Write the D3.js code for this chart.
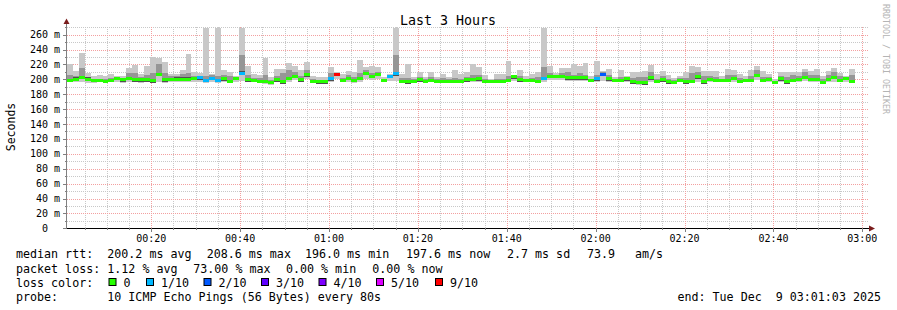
<!DOCTYPE html>
<html>
<head>
<meta charset="utf-8">
<script src="https://cdn.jsdelivr.net/npm/d3@7"></script>
<style>
  html, body { margin: 0; padding: 0; background: #fff; }
  svg { display: block; }
  text { font-family: "DejaVu Sans Mono", monospace; fill: #000; white-space: pre; }
</style>
</head>
<body>
<div id="chart"></div>
<script>
// step start time and step length (smokeping 80s steps)
const startTime = Date.UTC(2025, 11, 9, 0, 1, 3)
const endTime = Date.UTC(2025, 11, 9, 3, 1, 3)
const stepSec = 80

// median rtt per step (ms)
const median = [
  199, 201, 203.5, 201, 199, 199, 198.2, 199.5, 202, 200,
  202, 200, 200, 200, 198.6, 207, 200, 200.5, 201, 201,
  201, 202, 202.7, 199, 202, 199, 201.3, 198.2, 201.8, 209,
  200, 199.1, 198.2, 198.2, 196.4, 200, 197.3, 202, 204.5, 200,
  206.7, 198.2, 197.3, 197.3, 201.3, 207, 199.1, 202.2, 199.1, 202.2,
  208.5, 204.9, 207, 199.1, 204.9, 208, 198.2, 197.3, 198.2, 200,
  198.2, 199.1, 198.2, 198.2, 198.2, 198.2, 198.2, 200, 200.9, 201.3,
  198.2, 198.2, 198.2, 198.2, 199.1, 204, 200, 199.1, 199.1, 198.2,
  202.2, 204.5, 204.5, 204.5, 202.7, 202.7, 202.7, 202.7, 199.1, 201.3,
  207, 201.3, 199.1, 199.1, 201.3, 197.3, 196.4, 196, 202.7, 198.2,
  200, 197.3, 196.9, 199.1, 197.3, 198.2, 204, 197.3, 200.4, 199.1,
  199.1, 199.1, 202.2, 198.2, 199.1, 199.1, 205.8, 199.1, 200.4, 196.4,
  201.3, 197.3, 199.1, 200.9, 203.6, 200.4, 200.4, 196.4, 200.9, 203.6,
  198.7, 201.8, 198.2
]

// slowest ping per step (ms)
const maxPing = [
  220.6, 211.6, 235.3, 208.5, 204.9, 206.3, 204, 207.2, 204.5, 204,
  215.2, 219.2, 207.2, 218.3, 230.4, 229, 222.8, 207.2, 207.2, 212.5,
  234, 209.4, 208.5, 269, 207, 269, 212.5, 210.3, 204.9, 269,
  218, 207.2, 206.3, 229, 203.6, 213.9, 213.9, 221.5, 218.3, 212.5,
  223.3, 204.9, 203.6, 203.6, 216.1, 209.4, 207.2, 211.6, 209.4, 226.4,
  216.1, 218.3, 217, 202.7, 207.2, 269, 207.2, 220, 203.6, 209.4,
  203.6, 209.4, 202.7, 207.2, 202.7, 212.5, 207.2, 209.4, 220.6, 217,
  206.3, 200.4, 207.2, 207.2, 225, 206.3, 212.5, 204.9, 207.2, 209.4,
  269, 218.3, 208.1, 214.8, 215.2, 220.6, 218.3, 221.5, 204.9, 224.2,
  211, 213.9, 202.7, 212.5, 204.9, 210.3, 210.3, 211.6, 219.7, 207.2,
  210.7, 206.3, 201.8, 204.9, 210.3, 217.9, 217, 210.7, 210.7, 210.7,
  204.9, 213.9, 212.5, 207.2, 204.9, 212.5, 217.9, 211.6, 207.2, 200.4,
  209.4, 209.4, 210.3, 210.3, 213.9, 211.6, 213.9, 204.9, 211.6, 215.7,
  208.5, 204.9, 213.9
]

// upper edge of the dense part of the smoke (ms)
const innerHigh = [
  206, 204, 215, 203, 201, 201, 200, 202, 203.5, 202,
  208, 208, 203, 206, 208, 221, 208, 204, 204, 207,
  208, 205, 205, 205, 206, 204, 206, 204, 203, 232,
  206, 202, 202, 206, 199, 205, 208, 212, 210, 204,
  213, 200, 199, 199, 208, 208, 202, 206, 203, 208,
  212, 209, 210, 200, 206, 232, 202, 202, 200, 203,
  200, 203, 200, 202, 200, 202, 201, 203, 206, 206,
  201, 199, 201, 201, 204, 206, 204, 201, 202, 203,
  216, 209, 206, 208, 210, 206, 209, 206, 201, 206,
  210, 206, 200, 203, 203, 202, 203, 203, 210, 201,
  204, 201, 199, 202, 202, 209, 210, 204, 204, 203,
  201, 206, 206, 202, 201, 205, 212, 203, 203, 198,
  205, 203, 206, 205, 210, 206, 206, 200, 206, 210,
  204, 203, 206
]

// fastest ping per step (ms)
const minPing = [
  196, 197, 196, 195, 195, 196, 195, 196, 196, 195,
  196, 196, 195, 196, 195, 196, 195, 196, 196, 196,
  196, 197, 196, 195, 196, 195, 196, 195, 197, 198,
  196, 196, 195, 194, 193, 196, 194, 197, 199, 196,
  200, 195, 194, 194, 196, 200, 196, 197, 195, 197,
  200, 199, 200, 196, 198, 198, 195, 194, 195, 196,
  195, 196, 195, 195, 195, 195, 195, 196, 197, 197,
  195, 195, 195, 195, 196, 198, 196, 196, 196, 195,
  197, 199, 199, 199, 198, 198, 198, 198, 196, 197,
  198, 197, 196, 196, 197, 194, 193, 193, 196, 195,
  196, 194, 194, 196, 194, 195, 197, 194, 196, 196,
  196, 196, 197, 195, 196, 196, 199, 196, 197, 194,
  197, 194, 196, 197, 198, 196, 196, 194, 197, 197,
  196, 197, 195
]

// lost pings out of 10 per step
const loss = [
  0, 0, 0, 0, 0, 0, 0, 0, 0, 0,
  0, 0, 0, 0, 0, 0, 0, 0, 0, 0,
  0, 0, 1, 1, 1, 1, 0, 0, 0, 1,
  0, 0, 0, 0, 0, 0, 0, 0, 0, 0,
  0, 0, 0, 0, 1, 9, 0, 0, 0, 0,
  0, 0, 0, 0, 1, 1, 0, 0, 0, 0,
  0, 0, 0, 0, 0, 0, 0, 0, 0, 0,
  0, 0, 0, 0, 0, 0, 0, 0, 0, 0,
  1, 0, 0, 0, 0, 0, 0, 0, 0, 1,
  2, 0, 0, 0, 0, 0, 0, 0, 0, 0,
  0, 0, 0, 0, 0, 0, 0, 0, 0, 0,
  0, 0, 0, 0, 0, 0, 0, 0, 0, 0,
  0, 0, 0, 0, 0, 0, 0, 0, 0, 0,
  0, 0, 0
]

const lossLabels = ["0", "1/10", "2/10", "3/10", "4/10", "5/10", "9/10"]
const lossColors = ["#26ff00", "#00b8ff", "#0059ff", "#5e00ff", "#7e00ff", "#dd00ff", "#ff0000"]
const lossSteps = [0, 1, 2, 3, 4, 5, 9]

const statsRtt = ["200.2 ms avg", "208.6 ms max", "196.0 ms min", "197.6 ms now", "2.7 ms sd", "73.9", "am/s"]
const statsLoss = ["1.12 % avg", "73.00 % max", "0.00 % min", "0.00 % now"]
const probeText = "10 ICMP Echo Pings (56 Bytes) every 80s"
const endText = "end: Tue Dec  9 03:01:03 2025"

const width = 897, height = 310
const plot = { left: 67, right: 867, top: 26.8, bottom: 228.3 }

const svg = d3.select("#chart").append("svg")
  .attr("width", width)
  .attr("height", height)

svg.append("rect").attr("width", width).attr("height", height).attr("fill", "#fff")

const x = d3.scaleUtc()
  .domain([new Date(startTime), new Date(endTime)])
  .range([plot.left, plot.right])

const y = d3.scaleLinear()
  .domain([0, 270.5])
  .range([plot.bottom, plot.top])

const colorFor = n => {
  let c = lossColors[0]
  lossSteps.forEach((s, i) => { if (n >= s) c = lossColors[i] })
  return c
}

const steps = median.map((m, i) => ({
  t0: new Date(startTime + i * stepSec * 1000),
  t1: new Date(startTime + (i + 1) * stepSec * 1000),
  med: m, hi: maxPing[i], inner: innerHigh[i], lo: minPing[i], loss: loss[i]
}))

const px = v => Math.round(v)

// grid: 5 min / 10 ms minor, 20 min / 20 ms major
const minorX = d3.utcMinute.every(5).range(x.domain()[0], x.domain()[1])
const majorX = d3.utcMinute.every(20).range(x.domain()[0], x.domain()[1])
const minorY = d3.range(10, 271, 10)
const majorY = d3.range(20, 261, 20)

const grid = svg.append("g").attr("shape-rendering", "crispEdges")
grid.selectAll(".vminor").data(minorX).join("line")
  .attr("x1", d => px(x(d)) + 0.5).attr("x2", d => px(x(d)) + 0.5)
  .attr("y1", plot.top).attr("y2", plot.bottom)
  .attr("stroke", "#c8c8c8").attr("stroke-dasharray", "1,1")
grid.selectAll(".hminor").data(minorY).join("line")
  .attr("x1", plot.left).attr("x2", plot.right + 2)
  .attr("y1", d => px(y(d)) + 0.5).attr("y2", d => px(y(d)) + 0.5)
  .attr("stroke", "#c8c8c8").attr("stroke-dasharray", "1,1")
grid.selectAll(".vmajor").data(majorX).join("line")
  .attr("x1", d => px(x(d)) + 0.5).attr("x2", d => px(x(d)) + 0.5)
  .attr("y1", plot.top).attr("y2", plot.bottom)
  .attr("stroke", "#f3a0a0").attr("stroke-dasharray", "1,1")
grid.selectAll(".hmajor").data(majorY).join("line")
  .attr("x1", plot.left).attr("x2", plot.right + 2)
  .attr("y1", d => px(y(d)) + 0.5).attr("y2", d => px(y(d)) + 0.5)
  .attr("stroke", "#f3a0a0").attr("stroke-dasharray", "1,1")

// smoke
const smoke = svg.append("g").attr("shape-rendering", "crispEdges")
const colX = d => px(x(d.t0))
const colW = d => px(x(d.t1)) - px(x(d.t0))

smoke.selectAll(".light").data(steps).join("rect")
  .attr("x", colX).attr("width", colW)
  .attr("y", d => px(y(d.hi))).attr("height", d => px(y(d.lo)) - px(y(d.hi)))
  .attr("fill", "#c8c8c8")

smoke.selectAll(".mid").data(steps).join("rect")
  .attr("x", colX).attr("width", colW)
  .attr("y", d => px(y(d.inner)))
  .attr("height", d => Math.max(0, px(y(Math.max(d.lo, d.med - 3))) - px(y(d.inner))))
  .attr("fill", "#969696")

smoke.selectAll(".dark").data(steps).join("rect")
  .attr("x", colX).attr("width", colW)
  .attr("y", d => px(y(Math.min(d.inner, d.med + 1.5))))
  .attr("height", d => Math.max(0, px(y(Math.max(d.lo, d.med - 3))) - px(y(Math.min(d.inner, d.med + 1.5)))))
  .attr("fill", "#505050")

// median coloured by loss
smoke.selectAll(".med").data(steps).join("rect")
  .attr("x", colX).attr("width", colW)
  .attr("y", d => px(y(d.med)) - 1).attr("height", 3)
  .attr("fill", d => colorFor(d.loss))

// axes
const axes = svg.append("g").attr("shape-rendering", "crispEdges")
axes.append("line")
  .attr("x1", plot.left - 0.5).attr("x2", plot.left - 0.5)
  .attr("y1", plot.bottom).attr("y2", 20)
  .attr("stroke", "#808080")
axes.append("line")
  .attr("x1", plot.left - 4).attr("x2", plot.right + 3)
  .attr("y1", px(plot.bottom) + 0.5).attr("y2", px(plot.bottom) + 0.5)
  .attr("stroke", "#000")
svg.append("path")
  .attr("d", `M${plot.left - 3.5},24 L${plot.left - 0.5},18.5 L${plot.left + 2.5},24 Z`)
  .attr("fill", "#7a1c1c")
svg.append("path")
  .attr("d", `M${plot.right + 2},${px(plot.bottom) - 2.5} L${plot.right + 8},${px(plot.bottom) + 0.5} L${plot.right + 2},${px(plot.bottom) + 3.5} Z`)
  .attr("fill", "#7a1c1c")

axes.selectAll(".ytick").data(majorY.concat([0])).join("line")
  .attr("x1", plot.left - 4).attr("x2", plot.left)
  .attr("y1", d => px(y(d)) + 0.5).attr("y2", d => px(y(d)) + 0.5)
  .attr("stroke", "#808080")
axes.selectAll(".ytickm").data(minorY.filter(v => v % 20)).join("line")
  .attr("x1", plot.left - 2).attr("x2", plot.left)
  .attr("y1", d => px(y(d)) + 0.5).attr("y2", d => px(y(d)) + 0.5)
  .attr("stroke", "#808080")
axes.selectAll(".xtick").data(majorX).join("line")
  .attr("x1", d => px(x(d)) + 0.5).attr("x2", d => px(x(d)) + 0.5)
  .attr("y1", px(plot.bottom)).attr("y2", px(plot.bottom) + 4)
  .attr("stroke", "#808080")
axes.selectAll(".xtickm").data(minorX).join("line")
  .attr("x1", d => px(x(d)) + 0.5).attr("x2", d => px(x(d)) + 0.5)
  .attr("y1", px(plot.bottom)).attr("y2", px(plot.bottom) + 2)
  .attr("stroke", "#808080")

// tick labels
svg.selectAll(".ylab").data(majorY.concat([0])).join("text")
  .attr("x", d => d === 0 ? 48 : 60)
  .attr("y", d => y(d) + 3.5)
  .attr("text-anchor", "end")
  .attr("font-size", "10px")
  .text(d => d === 0 ? "0" : `${d} m`)

svg.selectAll(".xlab").data(majorX).join("text")
  .attr("x", d => x(d))
  .attr("y", 241.5)
  .attr("text-anchor", "middle")
  .attr("font-size", "10px")
  .text(d3.utcFormat("%H:%M"))

// title, axis label, watermark
svg.append("text")
  .attr("x", 448).attr("y", 24.5)
  .attr("text-anchor", "middle")
  .attr("font-size", "13.3px")
  .text("Last 3 Hours")

svg.append("text")
  .attr("transform", "translate(15,127) rotate(-90)")
  .attr("text-anchor", "middle")
  .attr("font-size", "11.5px")
  .text("Seconds")

svg.append("text")
  .attr("transform", "translate(883,4) rotate(90)")
  .attr("font-size", "8.3px")
  .style("fill", "#b4b4b4")
  .text("RRDTOOL / TOBI OETIKER")

// legend
const legend = svg.append("g").attr("font-size", "11.67px")
const row = (yy, label, parts, xs) => {
  legend.append("text").attr("x", 16).attr("y", yy).text(label)
  parts.forEach((p, i) => legend.append("text").attr("x", xs[i]).attr("y", yy).text(p))
}
row(258, "median rtt:", statsRtt, [107.3, 206.7, 305, 406, 507, 587, 635])
row(272.5, "packet loss:", statsLoss, [107.3, 193.3, 286, 372.3])

legend.append("text").attr("x", 16).attr("y", 286.5).text("loss color:")
const boxX = [108.5, 146, 203.5, 261, 318.5, 376, 435]
lossLabels.forEach((l, i) => {
  legend.append("rect")
    .attr("x", boxX[i] + 0.5).attr("y", 278.5)
    .attr("width", 7).attr("height", 7)
    .attr("fill", lossColors[i]).attr("stroke", "#000")
  legend.append("text").attr("x", boxX[i] + 15).attr("y", 286.5).text(l)
})

legend.append("text").attr("x", 16).attr("y", 300.5).text("probe:")
legend.append("text").attr("x", 107.3).attr("y", 300.5).text(probeText)
legend.append("text").attr("x", 881).attr("y", 300.5).attr("text-anchor", "end").text(endText)
</script>
</body>
</html>
